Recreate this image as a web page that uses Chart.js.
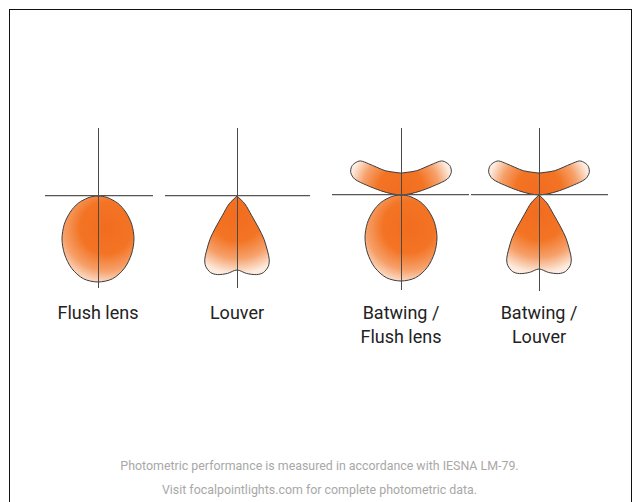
<!DOCTYPE html>
<html>
<head>
<meta charset="utf-8">
<script src="https://cdn.jsdelivr.net/npm/chart.js@4.4.1/dist/chart.umd.min.js"></script>
<style>
  body { margin: 0; background: #fff; font-family: Roboto, "Liberation Sans", sans-serif; }
  #page { position: relative; width: 639px; height: 502px; overflow: hidden; }
  #frame { position: absolute; left: 9px; top: 9px; width: 623px; height: 600px; box-sizing: border-box;
           border: 1.5px solid #111; border-bottom: none; }
  canvas { position: absolute; }
  .label { position: absolute; width: 160px; margin-left: -80px; text-align: center;
           font-size: 18px; line-height: 24px; color: #222; }
  #footer { position: absolute; left: 0; width: 639px; top: 454px; text-align: center;
            font-size: 12.4px; line-height: 24px; color: #a8a8a8; }
</style>
</head>
<body>
<div id="page">
  <div id="frame"></div>
  <canvas id="p0"></canvas>
  <canvas id="p1"></canvas>
  <canvas id="p2"></canvas>
  <canvas id="p3"></canvas>
  <div id="footer">Photometric performance is measured in accordance with IESNA LM-79.<br>Visit focalpointlights.com for complete photometric data.</div>
</div>
<script>
// Diagram names (one per panel)
const categories = ['Flush lens', 'Louver', 'Batwing /\nFlush lens', 'Batwing /\nLouver'];

// Relative intensity by angle (degrees from nadir for downlight, from zenith for uplight)
const flushAngles = [0, 10, 20, 30, 40, 50, 60, 70, 80, 85, 90];
const flushLens   = [86, 84, 77, 67, 56, 44, 32, 21, 10, 5, 0];

const louverAngles = [0, 7, 14, 19, 24, 27, 29, 32, 34, 37, 45, 50];
const louver       = [74, 78, 81, 81, 77, 71, 63, 51, 39, 24, 11, 0];

const batwingAngles = [0, 15, 33, 46, 50, 55, 60, 66, 71, 74, 78, 83, 87];
const batwing       = [22, 23.5, 29, 45, 53, 56, 57, 55, 49, 36, 21, 9, 0];

// which curves go in which panel
const panelCurves = [['flush'], ['louver'], ['batwing', 'flush'], ['batwing', 'louver']];

const curves = {
    flush:   { angles: flushAngles, values: flushLens, up: false, glow: [8, -32, 58] },
    louver:  { angles: louverAngles, values: louver, up: false, glow: [0, -18, 60] },
    batwing: { angles: batwingAngles, values: batwing, up: true, glow: [0, 4, 52] }
};

// canvas placement: left, top, width, height, origin offset inside the canvas
const panels = [
    { left: 45,  top: 128, w: 108, h: 160, ox: 53, oy: 68 },
    { left: 165, top: 128, w: 145, h: 160, ox: 72, oy: 68 },
    { left: 332, top: 128, w: 137, h: 162, ox: 69, oy: 67 },
    { left: 471, top: 128, w: 137, h: 163, ox: 68, oy: 67 }
];

// polar -> x/y, mirrored round the vertical axis
function toPoints(c) {
    const pts = [];
    const sign = c.up ? 1 : -1;
    for (let i = c.angles.length - 1; i >= 0; i--) {
        const a = -c.angles[i] * Math.PI / 180;
        pts.push({ x: c.values[i] * Math.sin(a), y: sign * c.values[i] * Math.cos(a) });
    }
    for (let i = 1; i < c.angles.length; i++) {
        const a = c.angles[i] * Math.PI / 180;
        pts.push({ x: c.values[i] * Math.sin(a), y: sign * c.values[i] * Math.cos(a) });
    }
    return pts;
}

function glowFill(glow) {
    return (context) => {
        const chart = context.chart;
        if (!chart.chartArea) return '#f37021';
        const cx = chart.scales.x.getPixelForValue(glow[0]);
        const cy = chart.scales.y.getPixelForValue(glow[1]);
        const g = chart.ctx.createRadialGradient(cx, cy, 0, cx, cy, glow[2]);
        g.addColorStop(0, '#f26c1f');
        g.addColorStop(0.45, '#f37424');
        g.addColorStop(0.74, '#f6a06a');
        g.addColorStop(1, '#fdebdf');
        return g;
    };
}

const zeroOnly = (scale) => { scale.ticks = [{ value: 0 }]; };

panels.forEach((p, i) => {
    const canvas = document.getElementById('p' + i);
    canvas.width = p.w;
    canvas.height = p.h;
    canvas.style.left = p.left + 'px';
    canvas.style.top = p.top + 'px';

    const datasets = panelCurves[i].map(name => ({
        data: toPoints(curves[name]),
        showLine: true,
        fill: 'shape',
        tension: 0.3,
        pointRadius: 0,
        borderColor: '#3b3b3b',
        borderWidth: 1,
        backgroundColor: glowFill(curves[name].glow)
    }));

    new Chart(canvas.getContext('2d'), {
        type: 'scatter',
        data: { datasets },
        options: {
            responsive: false,
            animation: false,
            events: [],
            layout: { padding: 0 },
            plugins: { legend: { display: false }, tooltip: { enabled: false } },
            scales: {
                x: {
                    min: -p.ox, max: p.w - p.ox,
                    afterBuildTicks: zeroOnly,
                    ticks: { display: false },
                    border: { display: false },
                    grid: { z: 1, drawTicks: false, color: '#4a4a4a', lineWidth: 1 }
                },
                y: {
                    min: p.oy - p.h, max: p.oy,
                    afterBuildTicks: zeroOnly,
                    ticks: { display: false },
                    border: { display: false },
                    grid: { z: 1, drawTicks: false, color: '#555', lineWidth: 1.3 }
                }
            }
        }
    });

    // label under the panel
    const label = document.createElement('div');
    label.className = 'label';
    label.style.left = (p.left + p.ox) + 'px';
    label.style.top = '301px';
    label.innerText = categories[i];
    document.getElementById('page').appendChild(label);
});
</script>
</body>
</html>
